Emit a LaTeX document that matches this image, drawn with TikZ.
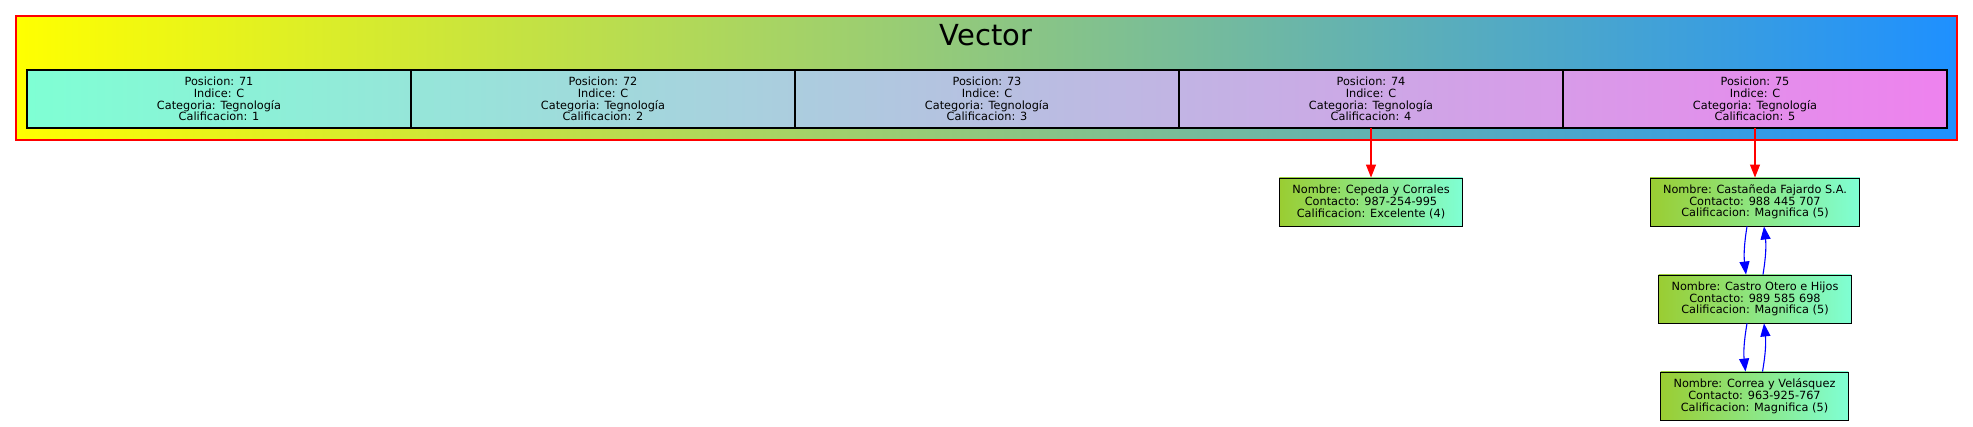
\documentclass[tikz,border=0pt]{standalone}
\usepackage{fontspec}
\newfontfamily\dejavu{DejaVu Sans}
\usetikzlibrary{positioning,arrows.meta}
\definecolor{aquamarine}{RGB}{127,255,212}
\definecolor{violeta}{RGB}{238,130,238}
\definecolor{yellowgreen}{RGB}{154,205,50}
\definecolor{dodgerblue}{RGB}{30,144,255}
\tikzset{
	celda/.style={draw=black, line width=1.2pt, minimum width=384pt, minimum height=58pt, inner sep=0pt, outer sep=0pt, align=center, font=\dejavu\fontsize{11.3}{11.7}\selectfont},
	empresa/.style={draw=black, line width=0.9pt, left color=yellowgreen, right color=aquamarine, minimum height=48pt, inner xsep=13pt, inner ysep=0pt, align=center, font=\dejavu\fontsize{11.3}{11.7}\selectfont},
	flecha/.style={-{Triangle[length=13pt,width=10pt]}, line width=1.1pt}
}
\begin{document}
\begin{tikzpicture}[x=1pt,y=-1pt]
		\useasboundingbox (0,0) rectangle (1973,427);
		%cluster
		\node[draw=red, line width=1.3pt, left color=yellow, right color=dodgerblue, minimum width=1941pt, minimum height=124pt, inner sep=0pt] (vector) at (986.5,78) {};
		\node[font=\dejavu\fontsize{29}{30}\selectfont] (titulo) at (986,35) {Vector};
		%cells
			\node[celda, left color=aquamarine, right color=violeta!20!aquamarine] (c71) at (219,99) {Posicion: 71\\Indice: C\\Categoria: Tegnología\\Calificacion: 1};
			\node[celda, left color=violeta!20!aquamarine, right color=violeta!40!aquamarine, right=0pt of c71] (c72) {Posicion: 72\\Indice: C\\Categoria: Tegnología\\Calificacion: 2};
			\node[celda, left color=violeta!40!aquamarine, right color=violeta!60!aquamarine, right=0pt of c72] (c73) {Posicion: 73\\Indice: C\\Categoria: Tegnología\\Calificacion: 3};
			\node[celda, left color=violeta!60!aquamarine, right color=violeta!80!aquamarine, right=0pt of c73] (c74) {Posicion: 74\\Indice: C\\Categoria: Tegnología\\Calificacion: 4};
			\node[celda, left color=violeta!80!aquamarine, right color=violeta, right=0pt of c74] (c75) {Posicion: 75\\Indice: C\\Categoria: Tegnología\\Calificacion: 5};
		%lists
			\node[empresa] (cepeda) at (1371,202) {Nombre: Cepeda y Corrales\\Contacto: 987-254-995\\Calificacion: Excelente (4)};
			\node[empresa] (castaneda) at (1755,202) {Nombre: Castañeda Fajardo S.A.\\Contacto: 988 445 707\\Calificacion: Magnifica (5)};
			\node[empresa] (castro) at (1755,299) {Nombre: Castro Otero e Hijos\\Contacto: 989 585 698\\Calificacion: Magnifica (5)};
			\node[empresa] (correa) at (1754.5,396) {Nombre: Correa y Velásquez\\Contacto: 963-925-767\\Calificacion: Magnifica (5)};
		% arrows
			\draw[flecha, red] (c74.south) -- (cepeda.north);
			\draw[flecha, red] (c75.south) -- (castaneda.north);
			\draw[flecha, blue] ([xshift=-8pt]castaneda.south) to[bend right=8] ([xshift=-9pt]castro.north);
			\draw[flecha, blue] ([xshift=8pt]castro.north) to[bend right=8] ([xshift=9pt]castaneda.south);
			\draw[flecha, blue] ([xshift=-8pt]castro.south) to[bend right=8] ([xshift=-9pt]correa.north);
			\draw[flecha, blue] ([xshift=8pt]correa.north) to[bend right=8] ([xshift=9pt]castro.south);
	\end{tikzpicture}
\end{document}
